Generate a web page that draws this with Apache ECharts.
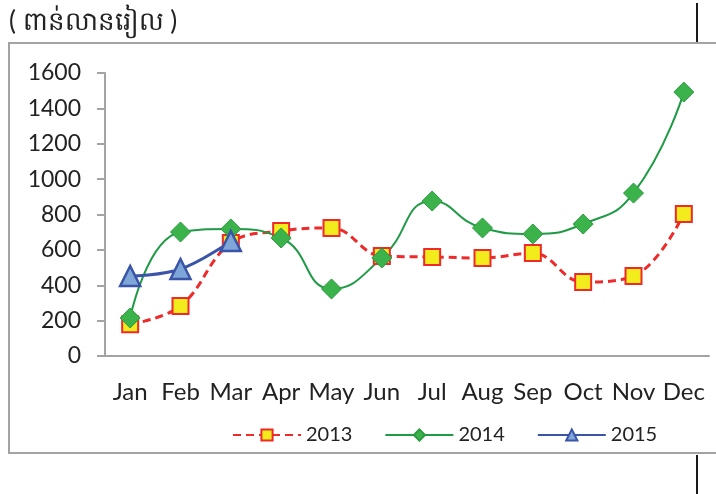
<!DOCTYPE html>
<html>
<head>
  <meta charset="UTF-8"/>
  <title></title>
  <style>
    html, body { margin: 0; padding: 0; background: #fff; }
    #main { width: 716px; height: 494px; }
  </style>
</head>
<body>
<div id="main"></div>
<script src="https://cdn.jsdelivr.net/npm/echarts@6/dist/echarts.min.js"></script>
<script type="text/javascript">
    // 月份
    let months = ['Jan', 'Feb', 'Mar', 'Apr', 'May', 'Jun', 'Jul', 'Aug', 'Sep', 'Oct', 'Nov', 'Dec']
    // 各年数据
    let y2013 = [180, 283, 639, 707, 724, 565, 560, 554, 582, 418, 452, 803]
    let y2014 = [215, 701, 718, 667, 379, 554, 876, 724, 690, 746, 921, 1492]
    let y2015 = [452, 492, 650]
    let unitLabel = '( ពាន់លានរៀល )'

    let font = 'Lato, "Open Sans", sans-serif'

    let myChart = echarts.init(document.getElementById('main'))
    let option = {
        backgroundColor: '#fff',
        animation: false,
        title: {
            text: unitLabel,
            left: 4,
            top: 4,
            textStyle: {
                fontFamily: font,
                fontSize: 26,
                fontWeight: 'normal',
                color: '#222'
            }
        },
        //外框和右侧黑线
        graphic: [
            {
                type: 'rect',
                shape: {x: 9, y: 43, width: 720, height: 410},
                style: {fill: 'none', stroke: '#a3a3a3', lineWidth: 2}
            },
            {
                type: 'line',
                shape: {x1: 697, y1: 3, x2: 697, y2: 42},
                style: {stroke: '#1a1a1a', lineWidth: 2}
            },
            {
                type: 'line',
                shape: {x1: 697, y1: 455, x2: 697, y2: 494},
                style: {stroke: '#1a1a1a', lineWidth: 2}
            }
        ],
        legend: {
            left: 227,
            top: 420,
            itemWidth: 68,
            itemHeight: 14,
            itemGap: 32,
            textStyle: {
                fontFamily: font,
                fontSize: 20,
                color: '#222'
            },
            data: ['2013', '2014', '2015']
        },
        grid: {
            left: 105,
            right: 7,
            top: 73,
            bottom: 138
        },
        xAxis: {
            type: 'category',
            data: months,
            boundaryGap: true,
            axisLine: {lineStyle: {color: '#a3a3a3', width: 2}},
            axisTick: {alignWithLabel: true, interval: 0, length: 6, lineStyle: {color: '#a3a3a3', width: 2}},
            axisLabel: {
                interval: 0,
                margin: 24,
                fontFamily: font,
                fontSize: 24,
                color: '#222'
            }
        },
        yAxis: {
            type: 'value',
            min: 0,
            max: 1600,
            interval: 200,
            splitLine: {show: false},
            axisLine: {show: true, lineStyle: {color: '#a3a3a3', width: 2}},
            axisTick: {show: true, length: 8, lineStyle: {color: '#a3a3a3', width: 2}},
            axisLabel: {
                margin: 24,
                formatter: function (v) { return String(v) },
                fontFamily: font,
                fontSize: 23,
                color: '#222'
            }
        },
        series: [
            {
                name: '2013',
                type: 'line',
                data: y2013,
                smooth: 0.4,
                symbol: 'rect',
                symbolSize: 16,
                lineStyle: {color: '#ee2a2a', width: 3, type: [8, 5]},
                itemStyle: {color: '#f2ec1c', borderColor: '#ee2a2a', borderWidth: 2}
            },
            {
                name: '2014',
                type: 'line',
                data: y2014,
                smooth: 0.5,
                symbol: 'diamond',
                symbolSize: 20,
                lineStyle: {color: '#1f9a45', width: 2},
                itemStyle: {color: '#3cb34a', borderColor: '#2a9a40', borderWidth: 1}
            },
            {
                name: '2015',
                type: 'line',
                data: y2015,
                smooth: 0.4,
                symbol: 'triangle',
                symbolSize: 20,
                lineStyle: {color: '#3a55a8', width: 3},
                itemStyle: {color: '#7fa6d8', borderColor: '#3a55a8', borderWidth: 2.5}
            }
        ]
    };
    myChart.setOption(option);
</script>
</body>
</html>
